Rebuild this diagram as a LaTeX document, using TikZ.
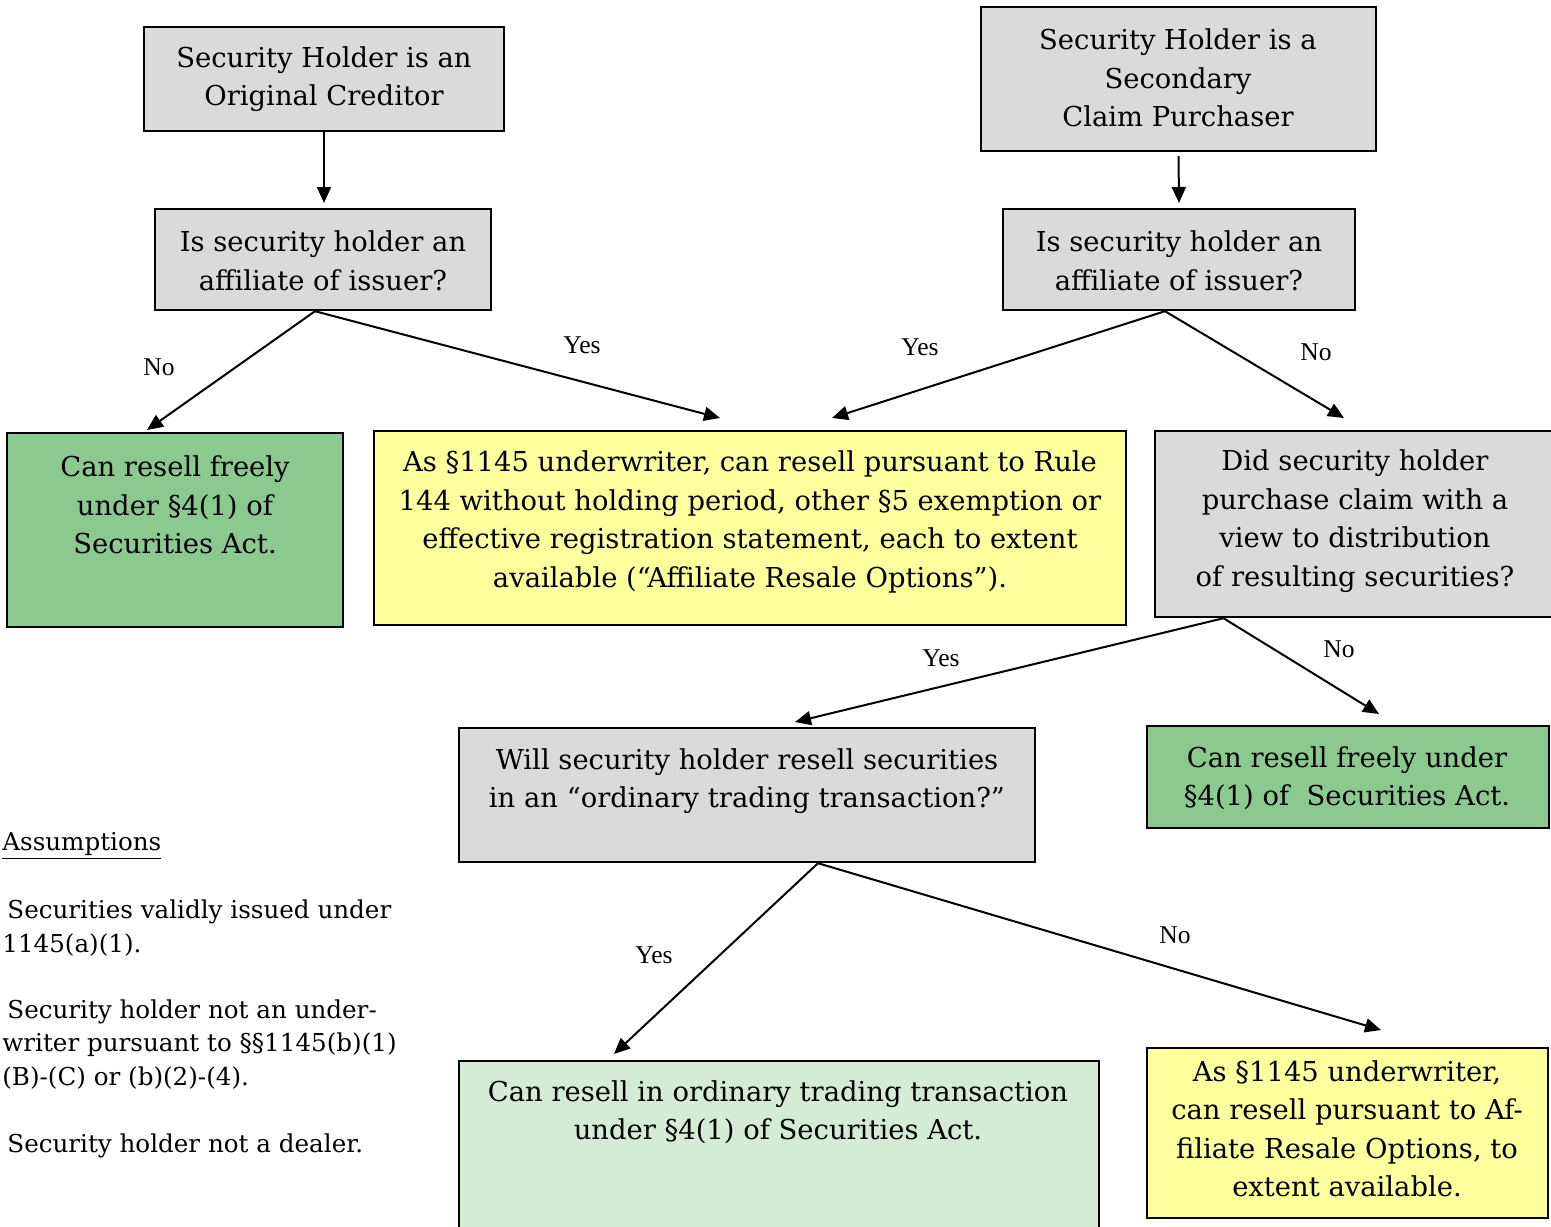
\documentclass[tikz,border=0pt]{standalone}
\usepackage{fontspec}
\setmainfont{DejaVu Serif}
\newfontfamily\lblfamily{Liberation Serif}
\usetikzlibrary{arrows.meta,fit}
\definecolor{boxgray}{HTML}{DADADA}
\definecolor{boxgreen}{HTML}{8CC98E}
\definecolor{boxlgreen}{HTML}{D3ECD3}
\definecolor{boxyellow}{HTML}{FFFF9E}
\newcommand\mainsz{\fontsize{13.7pt}{19.25pt}\selectfont}
\newcommand\assz{\fontsize{12.3pt}{16.5pt}\selectfont}
\newcommand\lblsz{\lblfamily\fontsize{12.8pt}{15pt}\selectfont}
\tikzset{
  box/.style={draw=black, line width=1.2pt, inner sep=0pt},
  graybox/.style={box, fill=boxgray},
  greenbox/.style={box, fill=boxgreen},
  lgreenbox/.style={box, fill=boxlgreen},
  yellowbox/.style={box, fill=boxyellow},
  txt/.style={align=center, inner sep=0pt, font=\mainsz},
  lbl/.style={inner sep=0pt, font=\lblsz},
  asm/.style={inner sep=0pt, anchor=west, font=\assz},
  arr/.style={line width=1pt, -{Triangle[length=8pt,width=7pt]}},
}
\begin{document}
\begin{tikzpicture}[x=0.5pt,y=-0.5pt]
\useasboundingbox (0,0) rectangle (1551,1226);
\fill[white] (0,0) rectangle (1551,1226);
\begin{scope}
\clip (0,0) rectangle (1551,1226);
% boxes
\node[graybox, fit={(144,27) (504,131)}] (A) {};
\node[graybox, fit={(981,7) (1376,151)}] (B) {};
\node[graybox, fit={(155,209) (491,310)}] (C) {};
\node[graybox, fit={(1003,209) (1355,310)}] (D) {};
\node[greenbox, fit={(7,433) (343,627)}] (E) {};
\node[yellowbox, fit={(374,431) (1126,625)}] (F) {};
\node[graybox, fit={(1155,431) (1556,617)}] (G) {};
\node[graybox, fit={(459,728) (1035,862)}] (H) {};
\node[greenbox, fit={(1147,726) (1549,828)}] (I) {};
\node[lgreenbox, fit={(459,1061) (1099,1236)}] (J) {};
\node[yellowbox, fit={(1147,1048) (1548,1218)}] (K) {};
% texts
\node[txt] (tA) at (324,79) {Security Holder is an\\Original Creditor};
\node[txt] (tB) at (1178,78) {Security Holder is a\\Secondary\\Claim Purchaser};
\node[txt] (tC) at (323,261) {Is security holder an\\affiliate of issuer?};
\node[txt] (tD) at (1179,261) {Is security holder an\\affiliate of issuer?};
\node[txt] (tE) at (175,505) {Can resell freely\\under §4(1) of\\Securities Act.};
\node[txt] (tF) at (750,522) {As §1145 underwriter, can resell pursuant to Rule\\144 without holding period, other §5 exemption or\\effective registration statement, each to extent\\available (“Affiliate Resale Options”).};
\node[txt] (tG) at (1355,521) {Did security holder\\purchase claim with a\\view to distribution\\of resulting securities?};
\node[txt] (tH) at (747,781) {Will security holder resell securities\\in an “ordinary trading transaction?”};
\node[txt] (tI) at (1347,778) {Can resell freely under\\§4(1) of\ \ Securities Act.};
\node[txt] (tJ) at (778,1112) {Can resell in ordinary trading transaction\\under §4(1) of Securities Act.};
\node[txt] (tK) at (1347,1129) {As §1145 underwriter,\\can resell pursuant to Af-\\filiate Resale Options, to\\extent available.};
% assumptions
\node[asm] (as0) at (2,846) {\underline{Assumptions}};
\node[asm] (as1) at (7,912) {Securities validly issued under};
\node[asm] (as2) at (2,945) {1145(a)(1).};
\node[asm] (as3) at (7,1012) {Security holder not an under-};
\node[asm] (as4) at (2,1045) {writer pursuant to §§1145(b)(1)};
\node[asm] (as5) at (2,1078) {(B)-(C) or (b)(2)-(4).};
\node[asm] (as6) at (7,1146) {Security holder not a dealer.};
% arrow tips
\coordinate (pC) at (324,203);
\coordinate (pD) at (1179,203);
\coordinate (pE) at (147,430);
\coordinate (pF1) at (720,418);
\coordinate (pF2) at (832,418);
\coordinate (pG) at (1344,418);
\coordinate (pH) at (795,722);
\coordinate (pI) at (1379,714);
\coordinate (pJ) at (614,1054);
\coordinate (pK) at (1381,1030);
% connectors
\draw[arr] (A.south) -- (pC);
\draw[arr] ([yshift=-2pt]B.south) -- (pD);
\draw[arr] ([xshift=-4pt]C.south) -- (pE);
\draw[arr] ([xshift=-4pt]C.south) -- (pF1);
\draw[arr] ([xshift=-7pt]D.south) -- (pF2);
\draw[arr] ([xshift=-7pt]D.south) -- (pG);
\draw[arr] ([xshift=-66pt]G.south) -- (pH);
\draw[arr] ([xshift=-66pt]G.south) -- (pI);
\draw[arr] ([xshift=35.5pt]H.south) -- (pJ);
\draw[arr] ([xshift=35.5pt]H.south) -- (pK);
% labels
\node[lbl] (l1) at (159,367) {No};
\node[lbl] (l2) at (582,345) {Yes};
\node[lbl] (l3) at (920,347) {Yes};
\node[lbl] (l4) at (1316,352) {No};
\node[lbl] (l5) at (941,658) {Yes};
\node[lbl] (l6) at (1339,649) {No};
\node[lbl] (l7) at (654,955) {Yes};
\node[lbl] (l8) at (1175,935) {No};
\end{scope}
\end{tikzpicture}
\end{document}
